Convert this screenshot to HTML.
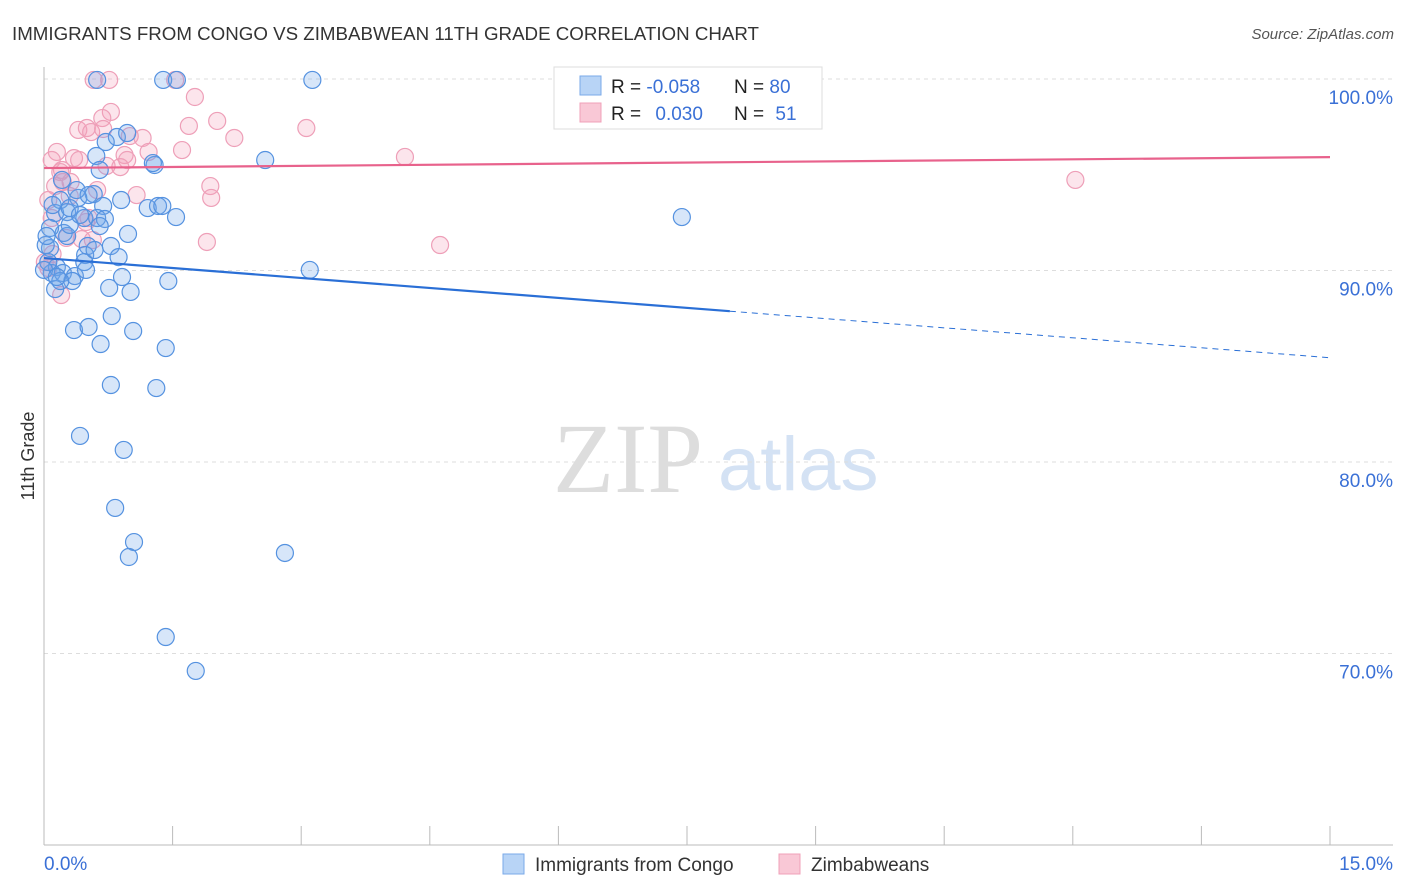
<!DOCTYPE html>
<html><head><meta charset="utf-8"><style>
body{margin:0;background:#fff;font-family:"Liberation Sans",sans-serif;}
#wrap{position:relative;width:1406px;height:892px;overflow:hidden;}
</style></head><body>
<div id="wrap">
<svg id="svg" width="1406" height="892" xmlns="http://www.w3.org/2000/svg">
<text x="12" y="40" font-size="18" fill="#333" textLength="747" lengthAdjust="spacingAndGlyphs">IMMIGRANTS FROM CONGO VS ZIMBABWEAN 11TH GRADE CORRELATION CHART</text>
<text x="1394" y="39" font-size="15" fill="#555" font-style="italic" text-anchor="end">Source: ZipAtlas.com</text>
<text x="553" y="492" font-size="100" font-family="Liberation Serif,serif" fill="#ddd">ZIP</text>
<text x="718" y="490" font-size="76" fill="#d4e2f4">atlas</text>
<g id="grid"></g>
<g id="axes"></g>
<g id="pts"></g>
<g id="trends"></g>
<text transform="translate(34,456) rotate(-90)" font-size="18" fill="#333" text-anchor="middle">11th Grade</text>
<g>
<rect x="554" y="67" width="268" height="62" fill="#fff" stroke="#ddd"/>
<rect x="580" y="76" width="21" height="19" fill="#b8d4f6" stroke="#7aaae8"/>
<rect x="580" y="103" width="21" height="19" fill="#f9c8d6" stroke="#f0a0b8"/>
<text x="611" y="93" font-size="19" fill="#222">R = <tspan fill="#3a70d6">-0.058</tspan></text>
<text x="734" y="93" font-size="19" fill="#222">N = <tspan fill="#3a70d6">80</tspan></text>
<text x="611" y="120" font-size="19" fill="#222">R = <tspan fill="#3a70d6" dx="9">0.030</tspan></text>
<text x="734" y="120" font-size="19" fill="#222">N = <tspan fill="#3a70d6" dx="6">51</tspan></text>
</g>
<g>
<rect x="503" y="854" width="21" height="20" fill="#b8d4f6" stroke="#7aaae8"/>
<text x="535" y="871" font-size="19" fill="#333">Immigrants from Congo</text>
<rect x="779" y="854" width="21" height="20" fill="#f9c8d6" stroke="#f0a0b8"/>
<text x="811" y="871" font-size="19" fill="#333">Zimbabweans</text>
</g>
</svg>
</div>
<script>
const yTicks=[100,90,80,70];
const yTickLabels=["100.0%","90.0%","80.0%","70.0%"];
const xTicks=[0,1.5,3,4.5,6,7.5,9,10.5,12,13.5,15];
const xEndLabels=["0.0%","15.0%"];
const blueX=[0.62,1.39,1.55,3.13,1.29,1.27,2.58,7.44,3.10,0.61,0.65,0.85,0.97,0.72,1.21,1.33,1.38,1.54,0.90,0.58,0.69,0.40,0.19,0.13,0.27,0.30,0.47,0.62,0.71,0.23,0.27,0.98,0.78,0.51,0.07,0.48,0.47,0.87,0.15,0.09,0.22,0.36,0.33,0.91,1.45,0.76,1.01,0.13,0.79,0.35,0.52,0.66,1.04,1.42,0.78,1.31,0.42,0.93,0.83,1.05,0.99,2.81,1.42,1.77,0.19,0.05,0.02,0.07,0.10,0.30,0.21,0.38,0.52,0.59,0.49,0.00,0.03,0.15,0.42,0.65];
const blueY=[99.95,99.95,99.95,99.95,95.51,95.61,95.77,92.79,90.03,95.98,95.25,96.97,97.18,96.71,93.26,93.37,93.37,92.79,93.68,93.99,93.37,93.79,93.68,93.00,93.05,93.26,92.74,92.74,92.69,91.96,91.80,91.91,91.28,91.28,91.17,90.81,90.44,90.70,90.18,89.87,89.87,89.71,89.45,89.66,89.45,89.09,88.88,89.03,87.62,86.89,87.05,86.16,86.84,85.95,84.02,83.86,81.36,80.63,77.60,75.82,75.04,75.25,70.86,69.09,89.45,90.44,91.33,92.22,93.42,92.38,94.73,94.20,93.94,91.07,90.03,90.03,91.80,89.66,92.90,92.32];
const pinkX=[0.58,0.76,1.53,1.76,0.78,0.68,0.40,0.50,0.55,2.02,1.69,2.22,3.06,4.21,1.15,1.00,0.94,0.97,1.22,1.61,0.15,0.35,0.41,0.19,0.22,0.31,0.62,1.08,0.13,1.94,1.95,12.03,4.62,1.90,0.20,0.52,0.73,0.05,0.09,0.26,0.44,0.57,0.49,0.01,0.05,0.10,0.89,0.69,0.21,0.30,0.09];
const pinkY=[99.95,99.95,99.95,99.06,98.28,97.96,97.34,97.44,97.23,97.81,97.55,96.92,97.44,95.93,96.92,97.02,96.03,95.77,96.19,96.29,96.19,95.87,95.77,95.14,94.62,94.62,94.20,93.94,94.41,94.41,93.79,94.73,91.33,91.49,88.72,92.74,95.46,93.68,92.74,91.70,91.64,91.59,92.53,90.44,90.13,90.86,95.40,97.39,95.25,93.89,95.77];
const blueTrend=[90.65,-0.347];
const pinkTrend=[95.35,0.038];
const blueSolidEnd=8.0;

const NS="http://www.w3.org/2000/svg";
const X0=44,X1=1330,Y100=79,PXPER=19.15;
function xs(v){return X0+(v/15)*(X1-X0);}
function ys(v){return Y100+(100-v)*PXPER;}
function mk(tag,attrs,parent){const e=document.createElementNS(NS,tag);for(const k in attrs)e.setAttribute(k,attrs[k]);parent.appendChild(e);return e;}
const grid=document.getElementById('grid'),axes=document.getElementById('axes'),pts=document.getElementById('pts'),tr=document.getElementById('trends');
yTicks.forEach((t,i)=>{
  const l=mk('line',{x1:X0,x2:1393,y1:ys(t),y2:ys(t),stroke:'#ddd','stroke-dasharray':'4,4'},grid);
  
  
  const tx=mk('text',{x:1393,y:ys(t)+25,'font-size':19,fill:'#3a70d6','text-anchor':'end'},axes);
  tx.textContent=yTickLabels[i];
  
  
});
const ya=mk('line',{x1:X0,x2:X0,y1:67,y2:845,stroke:'#bbb'},axes);


const xa=mk('line',{x1:X0,x2:1393,y1:845,y2:845,stroke:'#bbb'},axes);


xTicks.forEach(t=>{
  const l=mk('line',{x1:xs(t),x2:xs(t),y1:826,y2:845,stroke:'#bbb'},axes);
  
  
});
const xl0=mk('text',{x:44,y:870,'font-size':19,fill:'#3a70d6'},axes);xl0.textContent=xEndLabels[0];


const xl1=mk('text',{x:1393,y:870,'font-size':19,fill:'#3a70d6','text-anchor':'end'},axes);xl1.textContent=xEndLabels[1];


function dots(X,Y,fill,stroke,name){X.forEach((x,i)=>{
  const c=mk('circle',{cx:xs(x),cy:ys(Y[i]),r:8.5,fill:fill,stroke:stroke,'stroke-width':1.2},pts);
  
  
});}
dots(pinkX,pinkY,'rgba(244,160,185,0.28)','#ee9fb8','point-zimbabwe');
dots(blueX,blueY,'rgba(110,165,235,0.28)','#5592e0','point-congo');
const f=(p,x)=>p[0]+p[1]*x;
const bl=mk('line',{x1:xs(0),y1:ys(f(blueTrend,0)),x2:xs(blueSolidEnd),y2:ys(f(blueTrend,blueSolidEnd)),stroke:'#2a6fd6','stroke-width':2.2},tr);


const bd=mk('line',{x1:xs(blueSolidEnd),y1:ys(f(blueTrend,blueSolidEnd)),x2:xs(15),y2:ys(f(blueTrend,15)),stroke:'#2a6fd6','stroke-width':1,'stroke-dasharray':'6,5'},tr);


const pl=mk('line',{x1:xs(0),y1:ys(f(pinkTrend,0)),x2:xs(15),y2:ys(f(pinkTrend,15)),stroke:'#e8628c','stroke-width':2.2},tr);


</script>
</body></html>
